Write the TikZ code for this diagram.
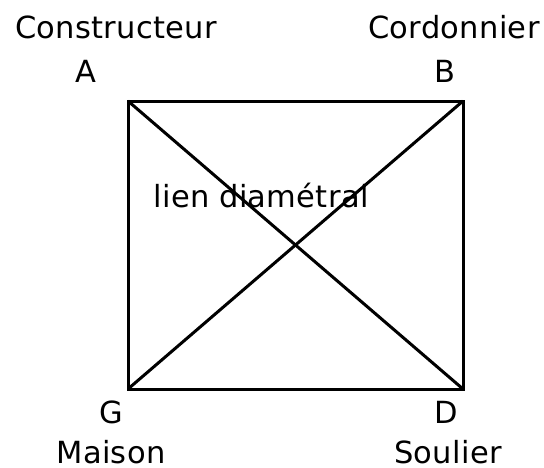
\documentclass[tikz,border=0pt]{standalone}
\usepackage{fontspec}
\setmainfont{DejaVu Sans}[LetterSpace=1]
\begin{document}
\begin{tikzpicture}[x=1pt, y=-1pt, font=\fontsize{30.5}{33}\selectfont,
  etichetta/.style={anchor=base, inner sep=0pt}]
  \useasboundingbox (0,0) rectangle (544,467);

  % vertici
  \coordinate (A) at (128,101);
  \coordinate (B) at (463,101);
  \coordinate (G) at (128,389);
  \coordinate (D) at (463,389);

  % quadrato e diagonali
  \draw[line width=3pt] (A) rectangle (D);
  \draw[line width=3pt] (A) -- (D);
  \draw[line width=3pt] (B) -- (G);

  % lettere
  \node[etichetta] (lA) at (86,82) {A};
  \node[etichetta] (lB) at (445,82) {B};
  \node[etichetta] (lG) at (111,423) {G};
  \node[etichetta] (lD) at (446,423) {D};

  % nomi
  \node[etichetta] (nA) at (116,38) {Constructeur};
  \node[etichetta] (nB) at (454,38) {Cordonnier};
  \node[etichetta] (nG) at (111,463) {Maison};
  \node[etichetta] (nD) at (448,463) {Soulier};

  % lien
  \node[etichetta] (lien) at (261,207) {lien diamétral};
\end{tikzpicture}
\end{document}
